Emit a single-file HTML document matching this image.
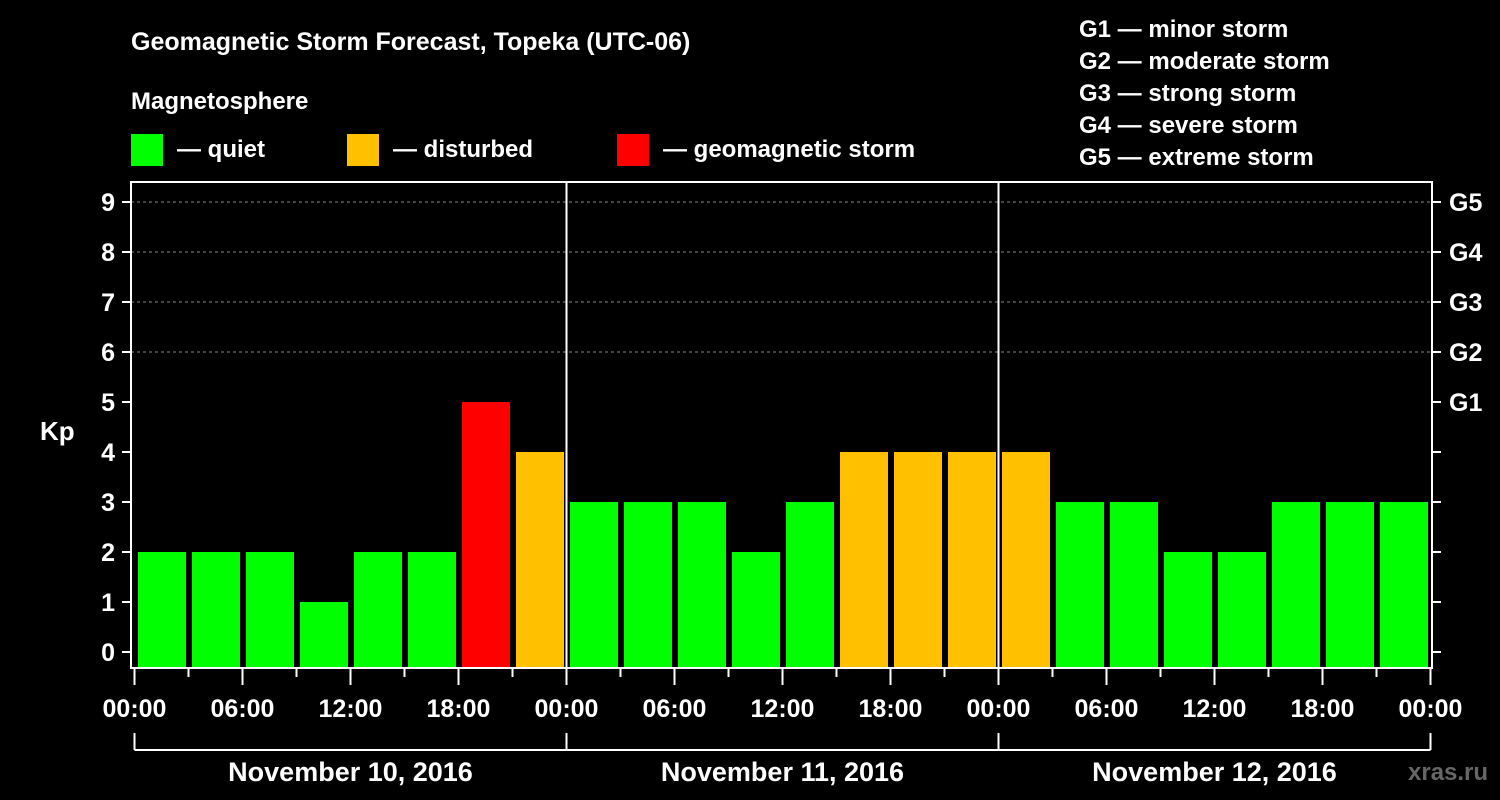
<!DOCTYPE html>
<html><head><meta charset="utf-8"><style>
body{margin:0;background:#000;}
svg{display:block;font-family:"Liberation Sans",Arial,sans-serif;font-weight:bold;}
</style></head><body>
<svg id="c" width="1500" height="800" viewBox="0 0 1500 800">
<rect width="1500" height="800" fill="#000"/>
<text x="131" y="50" fill="#fff" font-size="25">Geomagnetic Storm Forecast, Topeka (UTC-06)</text>
<text x="131" y="109" fill="#fff" font-size="24">Magnetosphere</text>
<g><rect x="131" y="134" width="32" height="32" fill="#00ff00"/><text x="177" y="157" fill="#fff" font-size="24">— quiet</text></g>
<g><rect x="347" y="134" width="32" height="32" fill="#ffc000"/><text x="393" y="157" fill="#fff" font-size="24">— disturbed</text></g>
<g><rect x="617" y="134" width="32" height="32" fill="#ff0000"/><text x="663" y="157" fill="#fff" font-size="24">— geomagnetic storm</text></g>
<g fill="#fff" font-size="24">
<text x="1079" y="37">G1 — minor storm</text>
<text x="1079" y="69">G2 — moderate storm</text>
<text x="1079" y="101">G3 — strong storm</text>
<text x="1079" y="133">G4 — severe storm</text>
<text x="1079" y="165">G5 — extreme storm</text>
</g>
<text x="40" y="440" fill="#fff" font-size="26">Kp</text>
<text x="1408" y="780" fill="#666" font-size="24">xras.ru</text>
<g id="marks"></g>
</svg>
<script>
const values = [2,2,2,1,2,2,5,4, 3,3,3,2,3,4,4,4, 4,3,3,2,2,3,3,3];
const yTicks = [0,1,2,3,4,5,6,7,8,9];
const gLabels = ["G1","G2","G3","G4","G5"];
const hourLabels = ["00:00","06:00","12:00","18:00"];
const dayLabels = ["November 10, 2016","November 11, 2016","November 12, 2016"];

const NS="http://www.w3.org/2000/svg";
const g=document.getElementById('marks');
const L=131,R=1432,T=182,B=668;
const x0=134.5, slot=54;
const y=v=>652-50*v;
const x=i=>x0+slot*i;
function el(t,a,p){const e=document.createElementNS(NS,t);for(const k in a)e.setAttribute(k,a[k]);(p||g).appendChild(e);return e;}
function color(v){return v>=5?"#ff0000":v>=4?"#ffc000":"#00ff00";}
// grid
[6,7,8,9].forEach(v=>{const ln=el('line',{x1:L,x2:R,y1:y(v),y2:y(v),stroke:"#888","stroke-dasharray":"3,3","stroke-width":1});
});
// bars
values.forEach((v,i)=>{const r=el('rect',{x:x(i)+3.5,y:y(v),width:48,height:B-y(v),fill:color(v)});
});
// day separators
for(let d=1;d<dayLabels.length;d++){const ln=el('line',{x1:x(d*8),x2:x(d*8),y1:T,y2:B,stroke:"#fff","stroke-width":2});
}
// frame
const f=el('rect',{x:L,y:T,width:R-L,height:B-T,fill:"none",stroke:"#fff","stroke-width":2});

// y ticks
yTicks.forEach(v=>{el('line',{x1:122,x2:L,y1:y(v),y2:y(v),stroke:"#fff","stroke-width":2});
el('line',{x1:R,x2:1441,y1:y(v),y2:y(v),stroke:"#fff","stroke-width":2});
const t=el('text',{x:115,y:y(v)+9,fill:"#fff","font-size":25,"text-anchor":"end"});t.textContent=v;
});
gLabels.forEach((s,i)=>{const t=el('text',{x:1449,y:y(5+i)+9,fill:"#fff","font-size":25});t.textContent=s;
});
// x ticks
for(let i=0;i<=values.length;i++){const major=i%2===0;
el('line',{x1:x(i),x2:x(i),y1:B,y2:major?685:677,stroke:"#fff","stroke-width":2});
if(major){const t=el('text',{x:x(i),y:717,fill:"#fff","font-size":25,"text-anchor":"middle"});t.textContent=hourLabels[(i/2)%4];
}}
// day brackets
el('line',{x1:x(0),x2:x(values.length),y1:750,y2:750,stroke:"#fff","stroke-width":2});
for(let d=0;d<=dayLabels.length;d++)el('line',{x1:x(d*8),x2:x(d*8),y1:733,y2:750,stroke:"#fff","stroke-width":2});
dayLabels.forEach((s,d)=>{const t=el('text',{x:x(d*8+4),y:781,fill:"#fff","font-size":27,"text-anchor":"middle"});t.textContent=s;
});
</script>
</body></html>
